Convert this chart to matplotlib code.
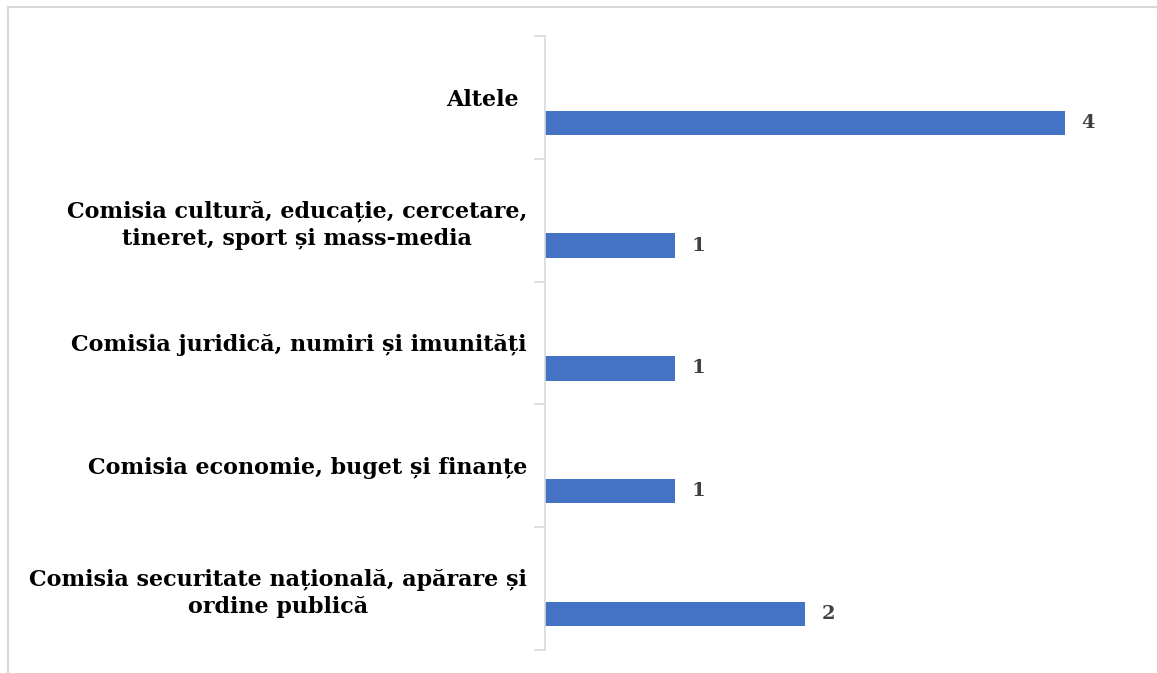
import matplotlib.pyplot as plt
from matplotlib.lines import Line2D

# Data (bottom to top, as drawn)
categories = [
    "Comisia securitate națională, apărare și\nordine publică",
    "Comisia economie, buget și finanțe",
    "Comisia juridică, numiri și imunități",
    "Comisia cultură, educație, cercetare,\ntineret, sport și mass-media",
    "Altele ",
]
values = [2, 1, 1, 1, 4]

bar_color = "#4472C4"
grey = "#d9d9d9"

W, H = 1157, 673
fig = plt.figure(figsize=(W / 100, H / 100), dpi=100)

# light frame (top and left edges visible)
fig.lines.append(Line2D([8 / W, 1], [1 - 7 / H, 1 - 7 / H], transform=fig.transFigure,
                        color=grey, linewidth=1.5))
fig.lines.append(Line2D([8 / W, 8 / W], [0, 1 - 7 / H], transform=fig.transFigure,
                        color=grey, linewidth=1.5))

ax = fig.add_axes([545 / W, 1 - 650 / H, (1135 - 545) / W, (650 - 36) / H])

pos = list(range(len(categories)))
bar_pos = [p - 0.207 for p in pos]
ax.barh(bar_pos, values, height=0.2, color=bar_color)

for y, v in zip(bar_pos, values):
    ax.text(v + 0.125, y, str(v), va="center", ha="left", fontsize=14,
            fontweight="bold", family="DejaVu Serif", color="#404040")

ax.set_xlim(0, (1135 - 545) / 130)
ax.set_ylim(-0.5, len(categories) - 0.5)

ax.set_yticks(pos)
ax.set_yticklabels(categories, fontsize=16, fontweight="bold", family="DejaVu Serif",
                   multialignment="center", linespacing=1.3)
ax.set_yticks([p - 0.5 for p in range(len(categories) + 1)], minor=True)
ax.tick_params(axis="y", which="major", length=0, pad=13)
ax.tick_params(axis="y", which="minor", length=8, color=grey, width=1.2)
ax.set_xticks([])

for s in ["top", "right", "bottom"]:
    ax.spines[s].set_visible(False)
ax.spines["left"].set_color(grey)
ax.spines["left"].set_linewidth(1.2)

fig.savefig("out.png", dpi=100)
